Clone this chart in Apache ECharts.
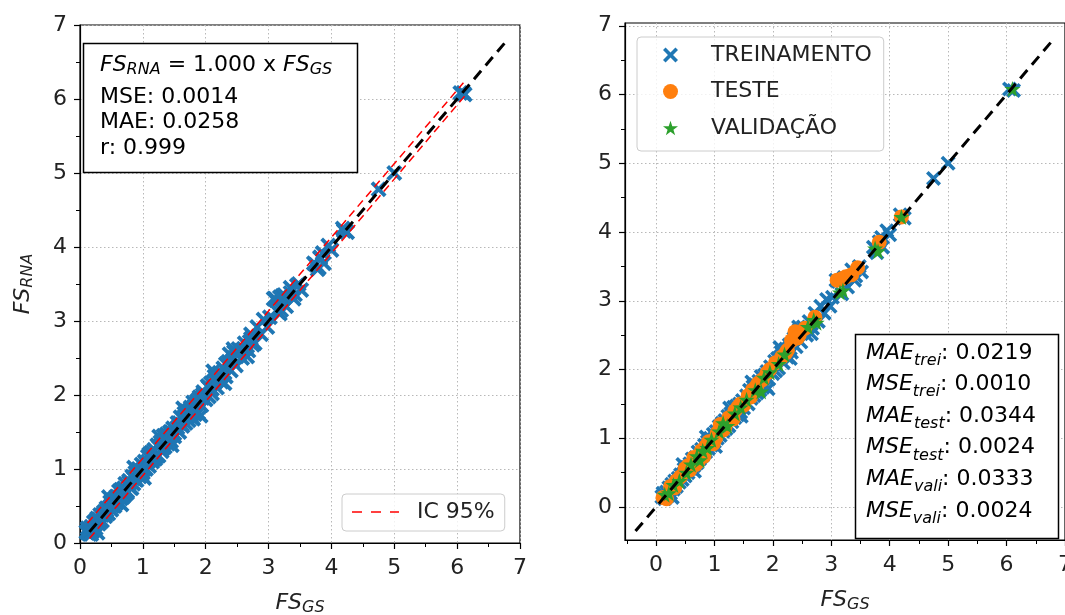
<!DOCTYPE html>
<html><head><meta charset="utf-8">
<script src="https://cdn.jsdelivr.net/npm/echarts@6/dist/echarts.min.js"></script>
<style>html,body{margin:0;padding:0;background:#fff}#c{width:1065px;height:615px}</style>
</head><body><div id="c"></div>
<script>
// ---- data ----
const train = [
 [0.10,0.15],[0.12,0.20],[0.15,0.12],[0.18,0.22],[0.20,0.16],[0.22,0.28],[0.25,0.20],[0.27,0.33],[0.30,0.26],[0.32,0.38],
 [0.35,0.30],[0.38,0.42],[0.40,0.36],[0.42,0.47],[0.45,0.40],[0.48,0.55],[0.50,0.45],[0.53,0.58],[0.55,0.50],[0.58,0.63],
 [0.60,0.56],[0.62,0.70],[0.65,0.60],[0.68,0.72],[0.70,0.64],[0.72,0.80],[0.75,0.70],[0.78,0.84],[0.80,0.75],[0.83,0.90],
 [0.85,0.80],[0.88,0.95],[0.90,0.85],[0.93,1.00],[0.95,0.90],[0.98,1.06],[1.00,0.95],[1.03,1.10],[1.05,1.00],[1.08,1.17],
 [1.10,1.04],[1.13,1.22],[1.15,1.10],[1.18,1.26],[1.20,1.14],[1.23,1.32],[1.25,1.18],[1.28,1.36],[1.30,1.24],[1.33,1.45],
 [1.35,1.30],[1.38,1.47],[1.40,1.34],[1.43,1.50],[1.45,1.38],[1.48,1.55],[1.50,1.44],[1.55,1.62],[1.58,1.50],[1.60,1.70],
 [1.63,1.58],[1.66,1.75],[1.68,1.62],[1.70,1.78],[1.73,1.66],[1.76,1.83],[1.78,1.70],[1.80,1.90],[1.83,1.74],[1.86,1.92],
 [1.88,1.76],[1.90,1.97],[1.93,1.86],[1.96,2.04],[2.00,1.94],[2.03,2.12],[2.05,1.98],[2.08,2.16],[2.10,2.02],[2.14,2.25],
 [2.18,2.10],[2.22,2.30],[2.25,2.18],[2.28,2.36],[2.32,2.25],[2.36,2.45],[2.40,2.33],[2.45,2.58],[2.48,2.40],[2.52,2.62],
 [2.58,2.50],[2.62,2.70],[2.68,2.60],[2.72,2.82],[2.78,2.70],[2.82,2.92],[2.88,2.82],[2.92,3.02],[2.98,2.92],[3.02,3.05],
 [3.12,3.28],[3.18,3.10],[3.22,3.34],[3.28,3.20],[3.35,3.45],[3.42,3.36],[3.48,3.50],[3.52,3.42],[3.72,3.78],[3.78,3.70],
 [3.82,3.86],[3.88,3.78],[3.95,4.02],[4.00,3.96],[4.18,4.25],[4.25,4.20],[4.75,4.78],[5.00,5.00],[6.05,6.08],[6.12,6.06],
 [0.28,0.14],[0.46,0.62],[0.66,0.52],[0.86,1.02],[1.02,0.88],[1.26,1.44],[1.46,1.32],[1.64,1.82],[1.92,1.72],[2.12,2.32],
 [2.30,2.16],[2.44,2.62],[2.66,2.52],[3.08,3.30],[3.40,3.30],[3.86,3.92]
];
const test = [
 [0.12,0.14],[0.18,0.12],[0.25,0.30],[0.32,0.28],[0.42,0.44],[0.50,0.56],[0.58,0.54],[0.65,0.72],[0.72,0.66],[0.78,0.82],
 [0.82,0.74],[0.90,0.95],[0.98,0.92],[1.05,1.08],[1.10,1.20],[1.18,1.16],[1.25,1.30],[1.32,1.28],[1.40,1.45],[1.50,1.48],
 [1.58,1.62],[1.65,1.70],[1.75,1.80],[1.82,1.85],[1.90,1.95],[2.05,2.10],[2.15,2.18],[2.25,2.28],[2.32,2.42],[2.38,2.55],
 [2.45,2.50],[2.55,2.60],[2.72,2.76],[3.10,3.30],[3.18,3.32],[3.25,3.35],[3.35,3.38],[3.45,3.48],[3.82,3.85],[4.20,4.22],
 [0.35,0.38],[0.55,0.60],[0.68,0.62],[0.85,0.88],[1.02,1.00],[1.15,1.12],[1.35,1.40],[1.45,1.50],[1.62,1.60],[1.72,1.76],
 [1.95,2.00],[2.22,2.24],[2.42,2.46]
];
const vali = [
 [0.15,0.18],[0.22,0.20],[0.30,0.32],[0.40,0.38],[0.52,0.50],[0.60,0.62],[0.70,0.74],[0.75,0.68],[0.80,0.82],[0.88,0.86],
 [0.95,0.98],[1.08,1.10],[1.15,1.22],[1.22,1.18],[1.35,1.36],[1.45,1.45],[1.55,1.56],[1.70,1.70],[1.80,1.68],[1.85,1.88],
 [1.95,1.96],[2.10,2.08],[2.20,2.22],[2.60,2.62],[2.70,2.72],[2.75,2.68],[3.15,3.12],[3.20,3.15],[3.80,3.72],[3.75,3.76],
 [4.20,4.22],[6.10,6.08]
];
const allPoints = train.concat(test, vali);
const refLineLeft = [[0.15,0.15],[6.8,6.8]];
const refLineRight = [[-0.35,-0.35],[6.8,6.8]];
const icUpper = [[0.12,0.27],[6.10,6.22]];
const icLower = [[0.15,0.06],[6.12,6.04]];
const majorTicks = [0,1,2,3,4,5,6,7];
const minorTicks = [-0.5,0.5,1.5,2.5,3.5,4.5,5.5,6.5];
const seriesNames = ['TREINAMENTO','TESTE','VALIDAÇÃO'];
const icName = 'IC 95%';
const leftStats = ['MSE: 0.0014','MAE: 0.0258','r: 0.999'];
const rightStats = [['MAE','trei','0.0219'],['MSE','trei','0.0010'],['MAE','test','0.0344'],['MSE','test','0.0024'],['MAE','vali','0.0333'],['MSE','vali','0.0024']];

// ---- styling ----
const FONT = "'DejaVu Sans', sans-serif";
const TXT = '#222';
const BLUE = '#1f77b4', ORANGE = '#ff7f0e', GREEN = '#2ca02c', RED = '#ff0000';
const XPATH = 'path://M1.7,0 L5,3.3 L8.3,0 L10,1.7 L6.7,5 L10,8.3 L8.3,10 L5,6.7 L1.7,10 L0,8.3 L3.3,5 L0,1.7 Z';
const STAR = 'path://M50,0 L61.8,35.1 L98.9,35.5 L69.1,57.6 L80.2,93 L50,71.5 L19.8,93 L30.9,57.6 L1.1,35.5 L38.2,35.1 Z';
// dashed-line legend icon inside a 48x14 box (corner specks keep the box size)
const DASH_ICON = 'path://M0,0 L0.01,0 L0,0.01 Z M48,14 L47.99,14 L48,13.99 Z M0,6.3 H10 V7.7 H0 Z M19,6.3 H29 V7.7 H19 Z M38,6.3 H47 V7.7 H38 Z';
function rich(lh, subLh){
  return {
    i:{fontFamily:FONT,fontStyle:'italic',fontSize:22,lineHeight:lh,color:TXT},
    s:{fontFamily:FONT,fontStyle:'italic',fontSize:16,lineHeight:subLh,verticalAlign:'bottom',color:TXT},
    n:{fontFamily:FONT,fontSize:22,lineHeight:lh,color:TXT}
  };
}
const splitLine = {show:true,lineStyle:{color:'#b8b8b8',width:1,type:[1.5,2.5]}};
const labelStyle = {fontFamily:FONT,fontSize:22,color:TXT};

function mainAxis(gridIndex, min, max, isY, nameText, useCustom){
  const a = {
    type:'value', gridIndex, min, max,
    position:isY?'left':'bottom',
    axisLine:{show:true,onZero:false,lineStyle:{color:'#000',width:1.2}},
    axisTick:{show:true,length:6,lineStyle:{color:'#000',width:1.2}},
    axisLabel:Object.assign({margin:isY?13:14}, labelStyle),
    splitLine,
    name:nameText, nameLocation:'middle',
    nameGap:isY?44:47, nameRotate:isY?90:0,
    nameTextStyle:{rich:rich(26,15)}
  };
  if(useCustom){
    a.axisTick.customValues = majorTicks;
    a.axisLabel.customValues = majorTicks;
  } else {
    a.interval = 1;
    a.minorTick = {show:true,splitNumber:2,length:4,lineStyle:{color:'#000',width:1}};
  }
  return a;
}
function minorAxis(gridIndex, min, max, isY){
  return {
    type:'value', gridIndex, min, max,
    position:isY?'left':'bottom',
    axisLine:{show:false,onZero:false},
    axisTick:{show:true,length:4,customValues:minorTicks,lineStyle:{color:'#000',width:1}},
    axisLabel:{show:false},
    splitLine:{show:false}
  };
}

const RX = [-0.53, 7.0], RY = [-0.48, 7.04];

const option = {
  backgroundColor:'#fff',
  animation:false,
  grid:[
    {left:80,top:25,width:440,height:518,containLabel:false,outerBoundsMode:'none',show:true,borderColor:'#000',borderWidth:1.2,backgroundColor:'transparent'},
    {left:625,top:23,width:440,height:517,containLabel:false,outerBoundsMode:'none',show:true,borderColor:'#000',borderWidth:1.2,backgroundColor:'transparent'}
  ],
  xAxis:[
    mainAxis(0,0,7,false,'{i|FS}{s|GS}',false),
    mainAxis(1,RX[0],RX[1],false,'{i|FS}{s|GS}',true),
    minorAxis(1,RX[0],RX[1],false)
  ],
  yAxis:[
    mainAxis(0,0,7,true,'{i|FS}{s|RNA}',false),
    Object.assign(mainAxis(1,RY[0],RY[1],true,'',true),{name:''}),
    minorAxis(1,RY[0],RY[1],true)
  ],
  legend:[
    {
      data:[{name:icName, icon:DASH_ICON, itemStyle:{color:RED}}], left:342, top:494, orient:'vertical',
      itemWidth:48, itemHeight:14, itemGap:10,
      padding:[5,10,6,10],
      backgroundColor:'rgba(255,255,255,0.8)', borderColor:'#cccccc', borderWidth:1, borderRadius:4,
      textStyle:{fontFamily:FONT,fontSize:22,color:TXT,lineHeight:26,padding:[0,0,0,12]},
      selectedMode:false
    },
    {
      data:seriesNames, left:637, top:37, orient:'vertical',
      itemWidth:15, itemHeight:15, itemGap:10.5,
      padding:[5,12,10,26],
      backgroundColor:'rgba(255,255,255,0.8)', borderColor:'#cccccc', borderWidth:1, borderRadius:4,
      textStyle:{fontFamily:FONT,fontSize:22,color:TXT,lineHeight:26,padding:[0,0,0,28]},
      selectedMode:false
    }
  ],
  series:[
    {name:'FS', type:'scatter', xAxisIndex:0, yAxisIndex:0, data:allPoints, symbol:XPATH, symbolSize:16, itemStyle:{color:BLUE,opacity:1}, z:2},
    {name:icName, type:'line', xAxisIndex:0, yAxisIndex:0, data:icUpper, symbol:'none', lineStyle:{color:RED,width:1.5,type:[8,5]}, itemStyle:{color:RED}, z:3},
    {name:icName, type:'line', xAxisIndex:0, yAxisIndex:0, data:icLower, symbol:'none', lineStyle:{color:RED,width:1.5,type:[8,5]}, itemStyle:{color:RED}, z:3},
    {name:'ref1', type:'line', xAxisIndex:0, yAxisIndex:0, data:refLineLeft, symbol:'none', lineStyle:{color:'#000',width:3,type:[11,7]}, z:4},
    {name:seriesNames[0], type:'scatter', xAxisIndex:1, yAxisIndex:1, data:train, symbol:XPATH, symbolSize:15, itemStyle:{color:BLUE,opacity:1}, z:2},
    {name:seriesNames[1], type:'scatter', xAxisIndex:1, yAxisIndex:1, data:test, symbol:'circle', symbolSize:15, itemStyle:{color:ORANGE,opacity:1}, z:2},
    {name:seriesNames[2], type:'scatter', xAxisIndex:1, yAxisIndex:1, data:vali, symbol:STAR, symbolSize:16, itemStyle:{color:GREEN,opacity:1}, z:2},
    {name:'ref2', type:'line', xAxisIndex:1, yAxisIndex:1, data:refLineRight, symbol:'none', lineStyle:{color:'#000',width:3,type:[11,7]}, z:4}
  ],
  graphic:[
    {type:'rect', shape:{x:83.5,y:43.5,width:274,height:129}, style:{fill:'#fff',stroke:'#000',lineWidth:1.5}, z:10},
    {type:'text', x:100, y:65, z:11, style:{text:'{i|FS}{s|RNA}{n| = 1.000 x }{i|FS}{s|GS}', rich:rich(26,15), verticalAlign:'middle', align:'left'}},
    {type:'text', x:100, y:84.5, z:11, style:{text:leftStats.map(t=>'{n|'+t+'}').join('\n'), rich:rich(25.5,15), verticalAlign:'top', align:'left'}},
    {type:'rect', shape:{x:855.5,y:334.5,width:203,height:204}, style:{fill:'#fff',stroke:'#000',lineWidth:1.5}, z:10},
    {type:'text', x:866, y:337, z:11, style:{text:rightStats.map(r=>'{i|'+r[0]+'}{s|'+r[1]+'}{n|: '+r[2]+'}').join('\n'), rich:rich(31.6,20), verticalAlign:'top', align:'left'}}
  ]
};
const chart = echarts.init(document.getElementById('c'), null, {renderer:'canvas'});
chart.setOption(option);
</script>
</body></html>
